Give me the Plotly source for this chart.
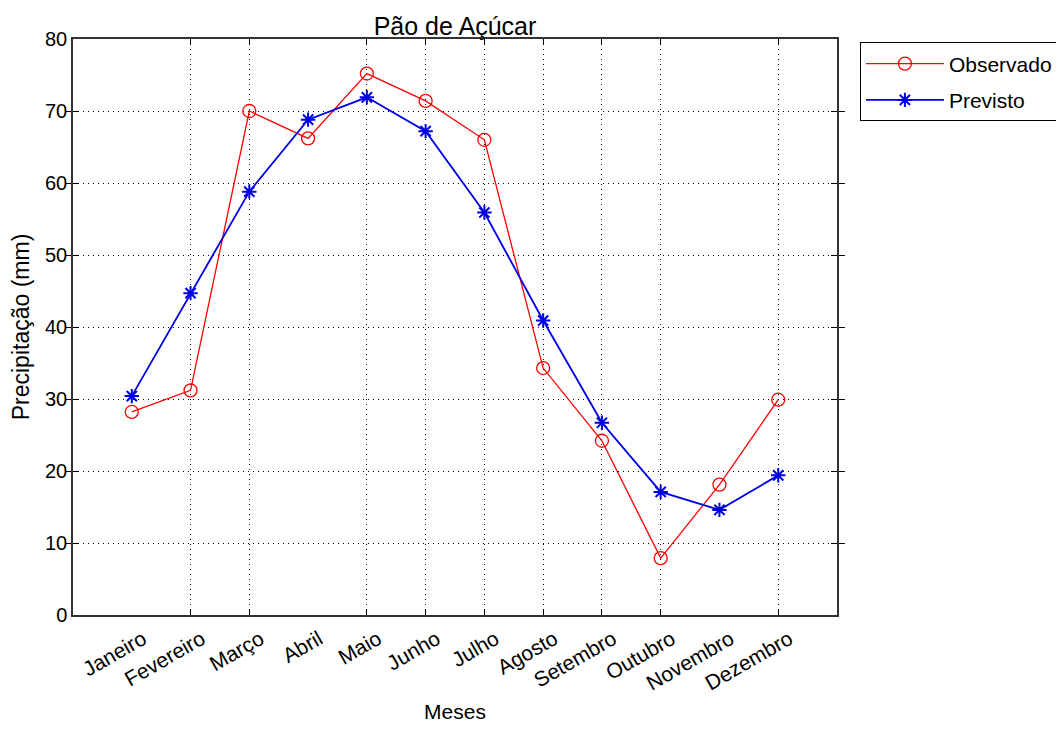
import plotly.graph_objects as go

months = ["Janeiro", "Fevereiro", "Março", "Abril", "Maio", "Junho",
          "Julho", "Agosto", "Setembro", "Outubro", "Novembro", "Dezembro"]
month_pos = list(range(1, 13))
observado = [28.2, 31.2, 70.0, 66.2, 75.2, 71.4, 66.0, 34.3, 24.2, 7.9, 18.1, 29.9]
previsto = [30.4, 44.7, 58.8, 68.8, 71.9, 67.2, 55.9, 40.9, 26.7, 17.1, 14.6, 19.4]
grid_ticks = [2, 3, 5, 6, 7, 8, 9, 10, 12]
y_ticks = [0, 10, 20, 30, 40, 50, 60, 70, 80]

FONT = "Liberation Sans, Arial, Helvetica, sans-serif"

fig = go.Figure()
fig.add_trace(go.Scatter(
    x=month_pos, y=observado, name="Observado", mode="lines+markers",
    legendgroup="obs",
    line=dict(color="#ff0000", width=1.3),
    marker=dict(symbol="circle-open", size=13, color="#ff0000", line=dict(width=1.3)),
))
fig.add_trace(go.Scatter(
    x=month_pos, y=previsto, name="Previsto", mode="lines+markers",
    legendgroup="prev",
    line=dict(color="#0000e6", width=1.8),
    marker=dict(symbol="asterisk-open", size=12, color="#0000e6", line=dict(width=2)),
))
# empty trace so the label axis is rendered
fig.add_trace(go.Scatter(x=[], y=[], xaxis="x2", showlegend=False, hoverinfo="skip"))

fig.update_layout(
    width=1056, height=723,
    paper_bgcolor="white", plot_bgcolor="white",
    margin=dict(l=65, r=227, t=31, b=116, autoexpand=False),
    font=dict(family=FONT, size=19, color="black"),
    title=dict(text="Pão de Açúcar", x=0.5, xref="paper", xanchor="center",
               y=1 - 18 / 723, yanchor="middle", font=dict(size=25, color="black")),
    xaxis=dict(
        range=[0, 13], tickvals=grid_ticks, showticklabels=False,
        showgrid=True, gridcolor="black", griddash="1px,4px", gridwidth=1,
        ticks="inside", ticklen=6, tickcolor="black",
        showline=True, linecolor="#333333", linewidth=1.5, mirror="allticks",
        zeroline=False,
    ),
    xaxis2=dict(
        overlaying="x", side="bottom", range=[0, 13],
        tickvals=month_pos, ticktext=months, tickangle=-30,
        ticks="", showgrid=False, zeroline=False, showline=False,
        tickfont=dict(size=21), ticklabelstandoff=7, ticklabelshift=11,
        title=dict(text="Meses", font=dict(size=21), standoff=10),
    ),
    yaxis=dict(
        range=[0, 80], tickvals=y_ticks,
        showgrid=True, gridcolor="black", griddash="1px,4px", gridwidth=1,
        ticks="inside", ticklen=6, tickcolor="black",
        showline=True, linecolor="#333333", linewidth=1.5, mirror="allticks",
        zeroline=False, tickfont=dict(size=20),
        title=dict(text="Precipitação (mm)", font=dict(size=23), standoff=10),
    ),
    legend=dict(
        x=1.03, y=0.994, xanchor="left", yanchor="top",
        bordercolor="black", borderwidth=1, bgcolor="white",
        font=dict(size=21), itemwidth=78, tracegroupgap=6,
    ),
    showlegend=True,
)

fig.write_html("out.html")
